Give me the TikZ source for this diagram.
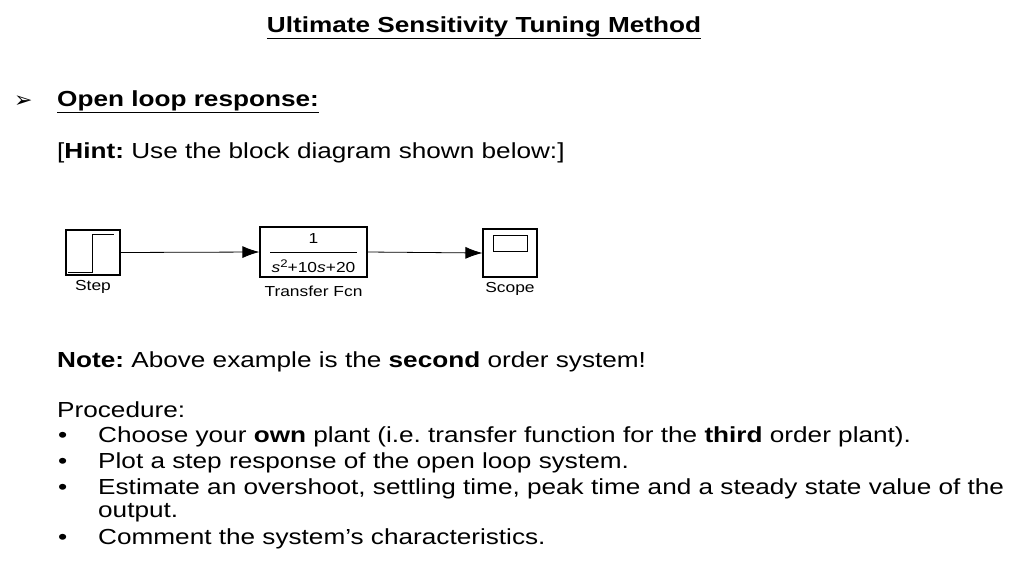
\documentclass[tikz,border=0pt]{standalone}
\usepackage{fontspec}
\setmainfont[FakeStretch=1.2]{Liberation Sans}
\newfontfamily\djv{DejaVu Sans}
\usetikzlibrary{arrows.meta}
\frenchspacing
\begin{document}
\begin{tikzpicture}[x=1pt,y=-1pt,
  txt/.style={anchor=west,inner sep=0pt,font=\fontsize{21.8}{25}\selectfont},
  blk/.style={draw,line width=1.2pt,inner sep=0pt},
  lbl/.style={inner sep=0pt,font=\fontsize{14.5}{15}\selectfont},
  sig/.style={line width=0.8pt,-{Latex[length=17pt,width=12pt]}}]
\useasboundingbox (0,0) rectangle (1024,576);
\node[txt,anchor=center] (title) at (484,28) {\textbf{\underline{Ultimate Sensitivity Tuning Method}}};
\node[txt] (arr) at (14,102) {{\djv\fontsize{22}{24}\selectfont ➢}};
\node[txt] (open) at (57,102) {\textbf{\underline{Open loop response:}}};
\node[txt] (hint) at (57,153) {[\textbf{Hint:} Use the block diagram shown below:]};
% blocks
\node[blk,minimum width=54pt,minimum height=45pt] (step) at (93,252.5) {};
\draw[line width=1.2pt] ([shift={(3,-3)}]step.south west) -- ++(24,0) -- ++(0,-38) -- ++(22,0);
\node[blk,minimum width=107pt,minimum height=50pt] (tf) at (313.5,252) {};
\node[lbl] (num) at (313.5,239) {1};
\draw[line width=0.8pt] (270,252) -- (357,252);
\node[lbl] (den) at (313.5,266) {\textit{s}\raisebox{5pt}{\fontsize{11}{11}\selectfont 2}+10\textit{s}+20};
\node[blk,minimum width=54pt,minimum height=48pt] (scope) at (510,253) {};
\node[draw,line width=1pt,minimum width=34pt,minimum height=16pt,inner sep=0pt] (screen) at (510,243) {};
\draw[sig] (step.east) -- (tf.west);
\draw[sig] (tf.east) -- (scope.west);
\node[lbl] (stepl) at (93,287) {Step};
\node[lbl] (tfl) at (313.5,291) {Transfer Fcn};
\node[lbl] (scl) at (510,289) {Scope};
\node[txt] (note) at (57,362) {\textbf{Note:} Above example is the \textbf{second} order system!};
\node[txt] (proc) at (57,410) {Procedure:};
\foreach \y/\n in {437/b1,463/b2,489/b3,539/b4}
  \node[txt] (\n) at (58,\y) {•};
\node[txt] (t1) at (98,437) {Choose your \textbf{own} plant (i.e. transfer function for the \textbf{third} order plant).};
\node[txt] (t2) at (98,463) {Plot a step response of the open loop system.};
\node[txt] (t3) at (98,489) {Estimate an overshoot, settling time, peak time and a steady state value of the};
\node[txt] (t3b) at (98,513) {output.};
\node[txt] (t4) at (98,539) {Comment the system’s characteristics.};
\end{tikzpicture}
\end{document}
